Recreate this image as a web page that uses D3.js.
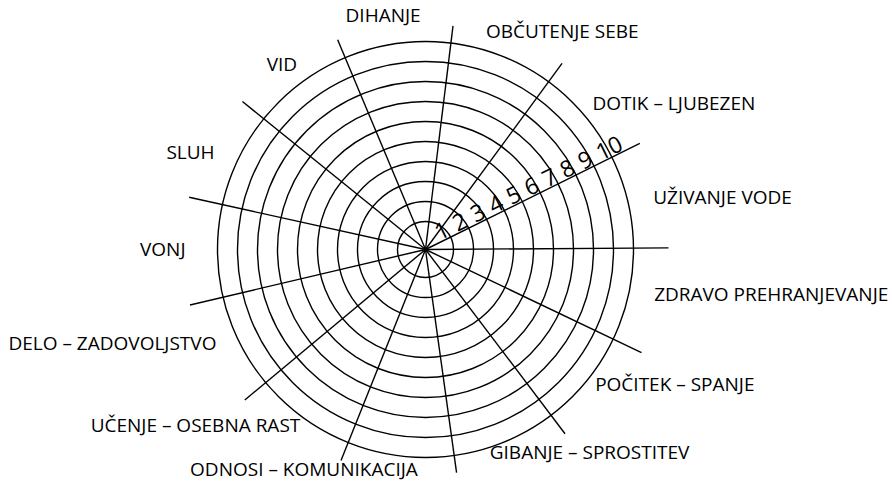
<!DOCTYPE html>
<html lang="sl">
<head>
<meta charset="utf-8">
<title>Kolo ravnovesja</title>
<script src="https://d3js.org/d3.v7.min.js"></script>
<style>
  body { margin: 0; background: #fff; }
  text { font-family: "Open Sans", sans-serif; fill: #000; }
</style>
</head>
<body>
<script>

// sectors, clockwise, starting right of the top spoke
var categories = ["OBČUTENJE SEBE", "DOTIK – LJUBEZEN", "UŽIVANJE VODE",
  "ZDRAVO PREHRANJEVANJE", "POČITEK – SPANJE", "GIBANJE – SPROSTITEV",
  "ODNOSI – KOMUNIKACIJA", "UČENJE – OSEBNA RAST", "DELO – ZADOVOLJSTVO",
  "VONJ", "SLUH", "VID", "DIHANJE"];

// rating rings 1..10 and their labels
var levels = [1, 2, 3, 4, 5, 6, 7, 8, 9, 10];
var levelLabels = ["1", "2", "3", "4", "5", "6", "7", "8", "9", "10"];

// the spoke that carries the scale numbers
var scaleSpoke = "UŽIVANJE VODE";

var width = 892, height = 481,
    cx = 425.5, cy = 249.5,
    sx = 1.08,          // spokes are drawn slightly wider than tall
    spokeR = 225;

var svg = d3.select("body")
  .append("svg")
    .attr("width", width)
    .attr("height", height);

var g = svg.append("g")
    .attr("transform", "translate(" + cx + "," + cy + ")");

var angle = d3.scaleBand()
    .domain(categories)
    .range([6.5 * Math.PI / 180, 6.5 * Math.PI / 180 + 2 * Math.PI]);

var radius = d3.scaleLinear()
    .domain([0, 10])
    .range([8, 208]);

function px(a, r) { return sx * r * Math.sin(a); }
function py(a, r) { return -r * Math.cos(a); }

// rings
g.selectAll("circle")
    .data(levels)
  .enter().append("circle")
    .attr("r", d => radius(d))
    .attr("fill", "none")
    .attr("stroke", "#000")
    .attr("stroke-width", 1.4);

// spokes
g.selectAll("line.spoke")
    .data(categories)
  .enter().append("line")
    .attr("class", "spoke")
    .attr("x1", 0)
    .attr("y1", 0)
    .attr("x2", d => px(angle(d), spokeR))
    .attr("y2", d => py(angle(d), spokeR))
    .attr("stroke", "#000")
    .attr("stroke-width", 1.4);

// scale numbers along one spoke, one per ring
var a0 = angle(scaleSpoke);
var rot = Math.atan2(py(a0, 1), px(a0, 1));

g.selectAll("text.level")
    .data(levels)
  .enter().append("text")
    .attr("class", "level")
    .attr("transform", d => {
      var r = radius(d) - 11.5;
      return "translate(" + r * Math.cos(rot) + "," + r * Math.sin(rot) + ") rotate(" + rot * 180 / Math.PI + ")";
    })
    .attr("dy", -1.5)
    .style("font-size", "23px")
    .text((d, i) => levelLabels[i]);

// category labels, set out in a rounded box round the wheel
g.selectAll("text.cat")
    .data(categories)
  .enter().append("text")
    .attr("class", "cat")
    .each(function (d) {
      var a = angle(d) + angle.bandwidth() / 2,
          s = Math.sin(a), c = Math.cos(a),
          top = c > 0.95,
          x = top ? 269 * s - 8 : (s > 0 ? 269 * s - 33 : 262 * s + 22),
          y = -c * (199 + 30 * c * c) - 2 - 6 * c * c;
      d3.select(this)
          .attr("x", x)
          .attr("y", y)
          .attr("dy", "0.36em")
          .attr("text-anchor", top ? "middle" : (s > 0 ? "start" : "end"));
    })
    .style("font-size", "19px")
    .text(d => d);

</script>
</body>
</html>
